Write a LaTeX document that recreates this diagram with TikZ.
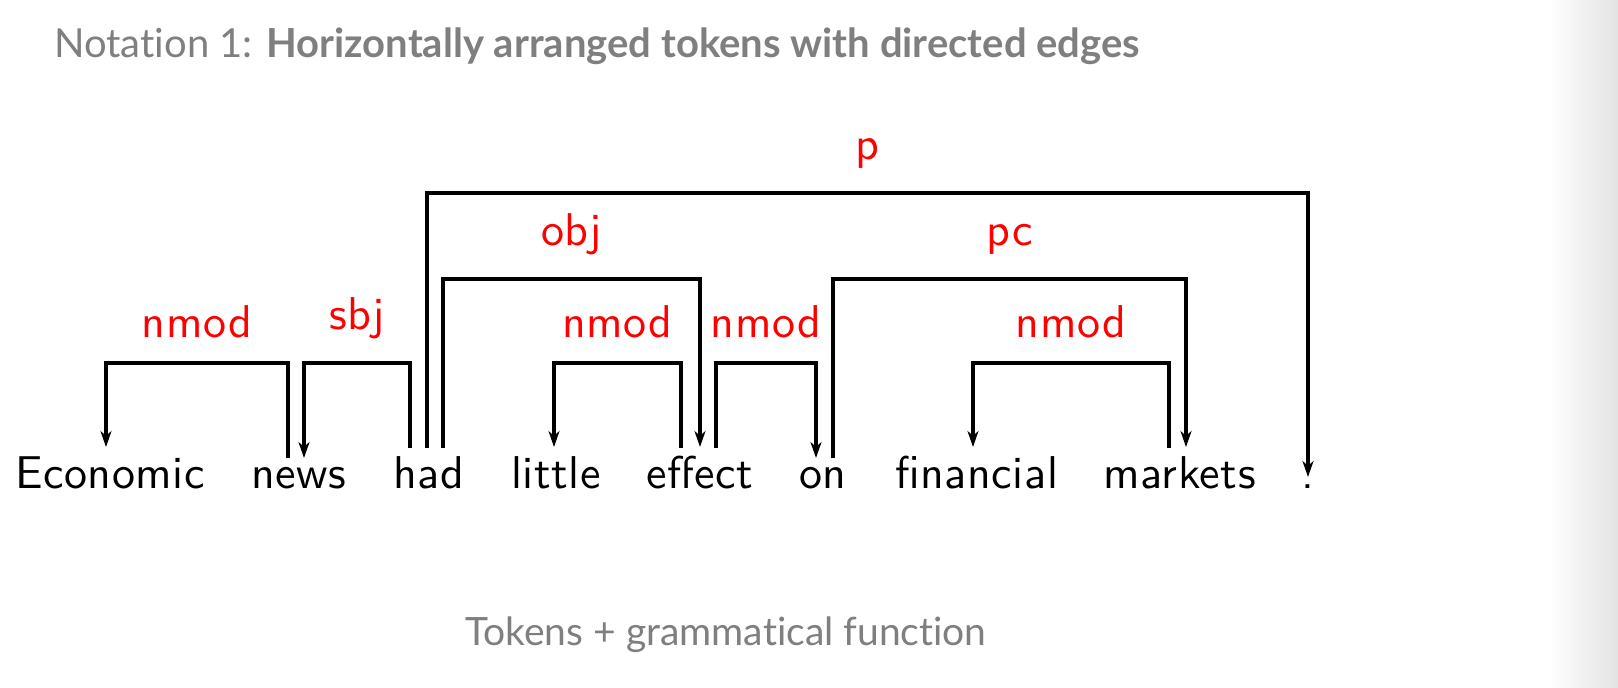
\documentclass[tikz,border=0pt]{standalone}
\usepackage{fontspec}
\newfontfamily\capfont{Lato}[Ligatures=NoCommon]
\newfontfamily\tokfont{lmsans10-regular.otf}[LetterSpace=1.3]
\usetikzlibrary{arrows.meta}
\definecolor{capgray}{HTML}{7F7F7F}
\tikzset{
  tok/.style={anchor=base west, inner sep=0pt, font=\tokfont\fontsize{46}{50}\selectfont},
  lbl/.style={anchor=south, inner sep=0pt, yshift=23pt, text=red, font=\tokfont\fontsize{46}{50}\selectfont},
  dep/.style={line width=3.1pt, -{Stealth[length=16pt,width=11pt,inset=5pt]}},
  captext/.style={anchor=base west, inner sep=0pt, text=capgray, font=\capfont\fontsize{39}{44}\selectfont}
}
\begin{document}
\begin{tikzpicture}[x=1pt,y=-1pt]
\useasboundingbox (0,0) rectangle (1618,688);
\fill[white] (0,0) rectangle (1618,688);
\shade[left color=white, right color=black!11] (1548,0) rectangle (1618,688);
% title and caption
\node[captext, font=\capfont\fontsize{40}{44}\selectfont] (title) at (54,57) {Notation 1: \textbf{Horizontally arranged tokens with directed edges}};
\node[captext] (caption) at (465,645) {Tokens + grammatical function};
% tokens
\node[tok] (economic) at (15,488) {Economic};
\node[tok] (news) at (251,488) {news};
\node[tok] (had) at (393,488) {had};
\node[tok] (little) at (511,488) {little};
\node[tok] (effect) at (646,488) {effect};
\node[tok] (on) at (799,488) {on};
\node[tok] (financial) at (895,488) {financial};
\node[tok] (markets) at (1103,488) {markets};
\node[tok] (dot) at (1301,488) {.};
% attach points (heads: line start; dependents: arrow tip)
\coordinate (news-h) at (288,458);
\coordinate (econ-d) at (106,447);
\coordinate (had-h1) at (410,448);
\coordinate (news-d) at (304,458);
\coordinate (had-h2) at (427,448);
\coordinate (dot-d) at (1308,477);
\coordinate (had-h3) at (443,448);
\coordinate (effect-d) at (700,447);
\coordinate (effect-h1) at (681,448);
\coordinate (little-d) at (554,447);
\coordinate (effect-h2) at (716,448);
\coordinate (on-d) at (816,458);
\coordinate (on-h) at (833,458);
\coordinate (markets-d) at (1186,447);
\coordinate (markets-h) at (1169,448);
\coordinate (fin-d) at (973,447);
% dependency brackets
\draw[dep] (news-h) -- (news-h |- 0,363) -- node[lbl]{nmod} (econ-d |- 0,363) -- (econ-d);
\draw[dep] (had-h1) -- (had-h1 |- 0,363) -- node[lbl]{sbj} (news-d |- 0,363) -- (news-d);
\draw[dep] (had-h2) -- (had-h2 |- 0,193) -- node[lbl]{p} (dot-d |- 0,193) -- (dot-d);
\draw[dep] (had-h3) -- (had-h3 |- 0,279) -- node[lbl]{obj} (effect-d |- 0,279) -- (effect-d);
\draw[dep] (effect-h1) -- (effect-h1 |- 0,363) -- node[lbl]{nmod} (little-d |- 0,363) -- (little-d);
\draw[dep] (effect-h2) -- (effect-h2 |- 0,363) -- node[lbl]{nmod} (on-d |- 0,363) -- (on-d);
\draw[dep] (on-h) -- (on-h |- 0,279) -- node[lbl]{pc} (markets-d |- 0,279) -- (markets-d);
\draw[dep] (markets-h) -- (markets-h |- 0,363) -- node[lbl]{nmod} (fin-d |- 0,363) -- (fin-d);
\end{tikzpicture}
\end{document}
